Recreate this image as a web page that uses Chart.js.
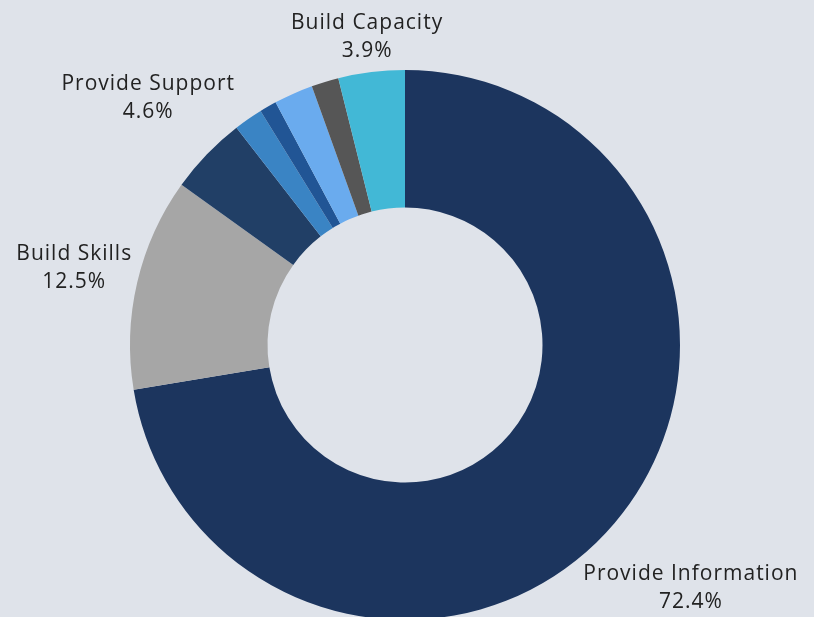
<!DOCTYPE html>
<html>
<head>
<meta charset="utf-8">
<script src="https://cdn.jsdelivr.net/npm/chart.js@4/dist/chart.umd.min.js"></script>
<style>
  html, body { margin:0; padding:0; background:#dfe3ea; overflow:hidden; }
  #wrap { position:absolute; left:0; top:0; width:814px; height:690px; }
</style>
</head>
<body>
<div id="wrap"><canvas id="c"></canvas></div>
<script>
const categories = ["Provide Information", "Build Skills", "Provide Support", "Other A", "Other B", "Other C", "Other D", "Build Capacity"];
const values = [72.4, 12.5, 4.6, 1.7, 1.0, 2.3, 1.6, 3.9];
const colors = ["#1c355e", "#a6a6a6", "#213f66", "#3a84c4", "#215595", "#6aabee", "#565656", "#42b8d6"];
const labelled = [true, true, true, false, false, false, false, true];

const outsideLabels = {
  id: 'outsideLabels',
  afterDatasetsDraw(chart) {
    const ctx = chart.ctx;
    const meta = chart.getDatasetMeta(0);
    ctx.save();
    ctx.font = '21px "Open Sans", sans-serif';
    try { ctx.letterSpacing = '1px'; } catch (e) {}
    ctx.fillStyle = '#222222';
    ctx.textAlign = 'center';
    ctx.textBaseline = 'middle';
    const lineH = 28;
    meta.data.forEach((arc, i) => {
      if (!labelled[i]) return;
      const p = arc.getProps(['x','y','startAngle','endAngle','outerRadius'], true);
      const mid = (p.startAngle + p.endAngle) / 2;
      const dx = Math.cos(mid), dy = Math.sin(mid);
      const lines = [categories[i], values[i].toFixed(1) + '%'];
      const w = Math.max(...lines.map(l => ctx.measureText(l).width));
      const h = lineH * lines.length;
      const gap = 3;
      const r = p.outerRadius + gap + Math.abs(dx) * w / 2 + Math.abs(dy) * 23;
      const cx = p.x + dx * r, cy = p.y + dy * r;
      lines.forEach((l, k) => {
        ctx.fillText(l, cx, cy - h / 2 + lineH * (k + 0.5));
      });
    });
    ctx.restore();
  }
};

new Chart(document.getElementById('c'), {
  type: 'doughnut',
  data: {
    labels: categories,
    datasets: [{ data: values, backgroundColor: colors, borderWidth: 0 }]
  },
  options: {
    responsive: true,
    maintainAspectRatio: false,
    animation: false,
    cutout: '50%',
    layout: { padding: { top: 70, bottom: 70, left: 130, right: 134 } },
    plugins: { legend: { display: false }, tooltip: { enabled: false } }
  },
  plugins: [outsideLabels]
});
</script>
</body>
</html>
